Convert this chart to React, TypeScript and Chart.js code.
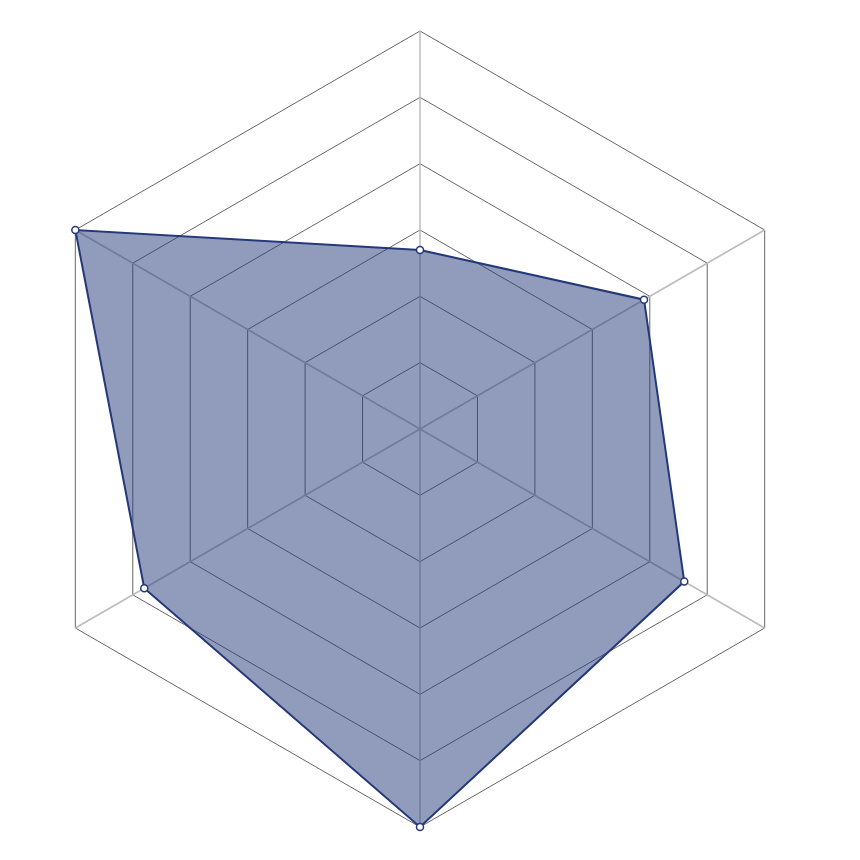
import { useEffect, useRef } from "react";
import { Chart, registerables, type ChartConfiguration } from "chart.js";

Chart.register(...registerables);

const AXES = ["A", "B", "C", "D", "E", "F"];
const VALUES = [2.7, 3.9, 4.6, 6.0, 4.8, 6.0];
const SCALE_MAX = 6;

const LINE_COLOR = "#24387a";
const FILL_COLOR = "rgba(36, 56, 122, 0.5)";

export default function App() {
  const canvasRef = useRef<HTMLCanvasElement>(null);
  const chartRef = useRef<Chart | null>(null);

  useEffect(() => {
    if (!canvasRef.current) return;
    chartRef.current?.destroy();

    const config: ChartConfiguration<"radar"> = {
      type: "radar",
      data: {
        labels: AXES,
        datasets: [
          {
            data: VALUES,
            borderColor: LINE_COLOR,
            backgroundColor: FILL_COLOR,
            borderWidth: 2,
            fill: true,
            pointRadius: 3.5,
            pointBorderWidth: 1.5,
            pointBackgroundColor: "#ffffff",
            pointBorderColor: LINE_COLOR,
          },
        ],
      },
      options: {
        responsive: true,
        maintainAspectRatio: false,
        animation: false,
        layout: { padding: { left: 14, right: 34, top: 22, bottom: 24 } },
        plugins: { legend: { display: false }, tooltip: { enabled: false } },
        scales: {
          r: {
            min: 0,
            max: SCALE_MAX,
            ticks: { display: false, stepSize: 1 },
            pointLabels: { display: false },
            grid: { color: "#666666", lineWidth: 1 },
            angleLines: { color: "#bbbbbb", lineWidth: 1.5 },
          },
        },
      },
    };

    chartRef.current = new Chart(canvasRef.current, config);
    return () => {
      chartRef.current?.destroy();
      chartRef.current = null;
    };
  }, []);

  return (
    <div style={{ width: 844, height: 844 }}>
      <canvas ref={canvasRef} />
    </div>
  );
}
